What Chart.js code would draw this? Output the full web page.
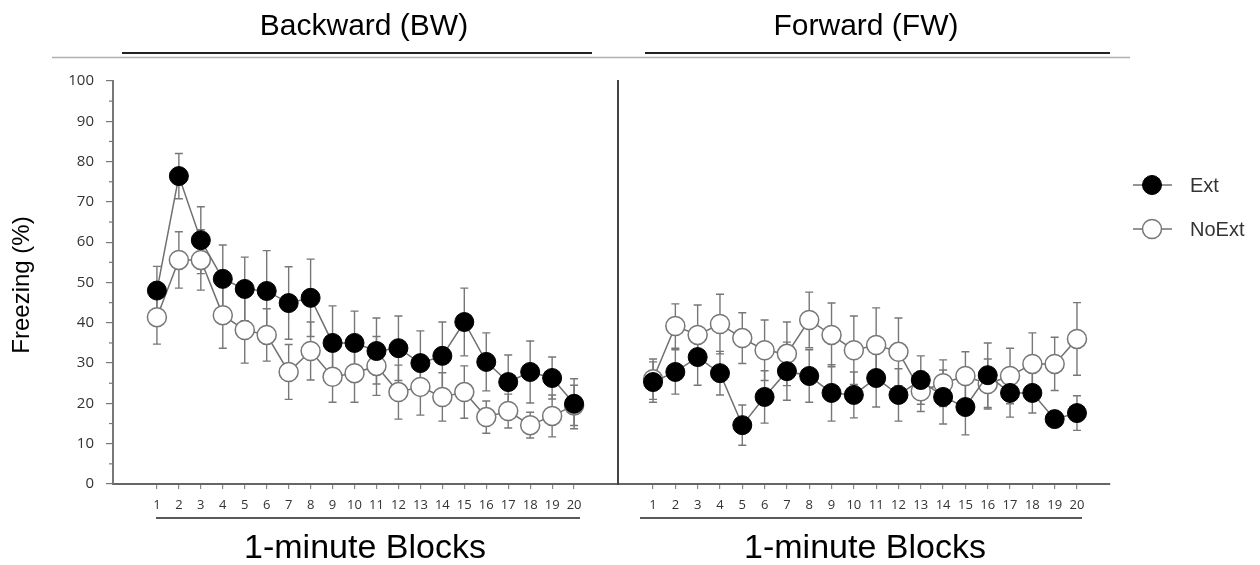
<!DOCTYPE html>
<html><head><meta charset="utf-8">
<script src="https://cdn.jsdelivr.net/npm/chart.js@4.4.1/dist/chart.umd.min.js"></script>
<style>
html,body{margin:0;padding:0;background:#fff;}
#wrap{position:relative;width:1260px;height:565px;background:#fff;}
canvas{position:absolute;left:0;top:0;}
</style></head><body>
<div id="wrap"><canvas id="a" width="1260" height="565"></canvas><canvas id="b" width="1260" height="565"></canvas></div>
<script>
// ---- data ----
const blocks = [1,2,3,4,5,6,7,8,9,10,11,12,13,14,15,16,17,18,19,20];
const seriesNames = ['Ext','NoExt'];
const panelTitles = ['Backward (BW)','Forward (FW)'];
const xTitle = '1-minute Blocks';
const yTitle = 'Freezing (%)';
const yTicks = [0,10,20,30,40,50,60,70,80,90,100];

const bwExt      = [48,76.4,60.5,50.9,48.4,47.9,44.9,46.2,35,35,33,33.7,30,31.8,40.2,30.3,25.3,27.8,26.3,19.9];
const bwExtErr   = [6,5.6,8.3,8.4,7.9,10,9,9.6,9.2,7.9,8.2,8,8,8.4,8.4,7.2,6.7,7.7,5.2,6.2];
const bwNoExt    = [41.4,55.6,55.6,41.9,38.2,37,27.8,33,26.6,27.5,29.3,22.8,24.1,21.6,22.8,16.6,18.1,14.6,16.9,19.5];
const bwNoExtErr = [6.7,7,7.5,8.2,8.2,6.5,6.8,7.2,6.3,7.2,7.3,6.7,7,6,6.5,4,4.2,3.2,5.2,5];

const fwExt      = [25.3,27.8,31.5,27.5,14.6,21.6,28,26.8,22.6,22.1,26.3,22.1,25.8,21.6,19.1,27,22.6,22.6,16.1,17.6];
const fwExtErr   = [5,5.5,7,5.4,5,6.5,7.2,6.5,7,5.7,7.2,6.5,6,6.7,6.9,8,6,5,2,4.3];
const fwNoExt    = [26,39.2,37,39.7,36.2,33.2,32.3,40.7,37,33.2,34.5,32.8,23,25,26.8,24.8,26.8,29.8,29.8,36];
const fwNoExtErr = [5,5.5,7.4,7.4,6.3,7.5,7.9,6.9,7.9,8.5,9.2,8.4,5,5.8,6,6.2,6.9,7.7,6.6,9];

// ---- layout ----
const W = 1260, H = 565;
const PLOT_TOP = 81, PLOT_BOTTOM = 484;
const LINE_C = '#707070';
const TXT = 'Liberation Sans, Arial, sans-serif';
const TICKF = 'Open Sans';

function pts(vals){ return blocks.map((b,i)=>({x:b, y:vals[i]})); }
function makeSets(ext, extErr, no, noErr){
  return [
    {label:seriesNames[0], data:pts(ext), errors:extErr, borderColor:LINE_C, borderWidth:1.5,
     pointRadius:9.5, pointBackgroundColor:'#000', pointBorderColor:'#000', pointBorderWidth:1, tension:0},
    {label:seriesNames[1], data:pts(no), errors:noErr, borderColor:LINE_C, borderWidth:1.5,
     pointRadius:9.5, pointBackgroundColor:'#fff', pointBorderColor:'#777', pointBorderWidth:1.5, tension:0}
  ];
}

const errPlugin = {
  id:'errbars',
  beforeDatasetsDraw(chart){
    const ctx = chart.ctx, xs = chart.scales.x, ys = chart.scales.y;
    ctx.save();
    ctx.strokeStyle = '#777'; ctx.lineWidth = 1.4;
    chart.data.datasets.forEach(ds=>{
      ds.data.forEach((p,j)=>{
        const e = ds.errors[j];
        const x = xs.getPixelForValue(p.x);
        const y1 = ys.getPixelForValue(p.y + e), y2 = ys.getPixelForValue(p.y - e);
        ctx.beginPath();
        ctx.moveTo(x,y1); ctx.lineTo(x,y2);
        ctx.moveTo(x-4,y1); ctx.lineTo(x+4,y1);
        ctx.moveTo(x-4,y2); ctx.lineTo(x+4,y2);
        ctx.stroke();
      });
    });
    ctx.restore();
  }
};

function hline(ctx,x1,x2,y,c,w){ ctx.save(); ctx.strokeStyle=c; ctx.lineWidth=w; ctx.beginPath(); ctx.moveTo(x1,y); ctx.lineTo(x2,y); ctx.stroke(); ctx.restore(); }

const decoPlugin = {
  id:'deco',
  afterDraw(chart){
    const ctx = chart.ctx, ys = chart.scales.y;
    // minor y ticks
    ctx.save(); ctx.strokeStyle='#777'; ctx.lineWidth=1.2;
    for (let i=0;i<yTicks.length-1;i++){
      const v=(yTicks[i]+yTicks[i+1])/2, y=ys.getPixelForValue(v);
      ctx.beginPath(); ctx.moveTo(ys.right-4,y); ctx.lineTo(ys.right,y); ctx.stroke();
    }
    ctx.restore();
    // header
    hline(ctx,52,1130,57.5,'#b0b0b0',1.5);
    hline(ctx,122,592,53,'#222',2);
    hline(ctx,645,1110,53,'#222',2);
    ctx.save();
    ctx.fillStyle='#000'; ctx.textAlign='center'; ctx.textBaseline='alphabetic';
    ctx.font = '30px '+TXT;
    ctx.fillText(panelTitles[0],364,35);
    ctx.fillText(panelTitles[1],866,35);
    // footer
    hline(ctx,156,580,518,'#222',1.5);
    hline(ctx,640,1082,518,'#222',1.5);
    ctx.font = '34px '+TXT;
    ctx.fillText(xTitle,365,558);
    ctx.fillText(xTitle,865,558);
    // y title
    ctx.translate(22,285); ctx.rotate(-Math.PI/2);
    ctx.font = '24px '+TXT; ctx.textBaseline='middle';
    ctx.fillText(yTitle,0,0);
    ctx.restore();
  }
};

const legendPlugin = {
  id:'leg',
  afterDraw(chart){
    const ctx = chart.ctx;
    chart.data.datasets.forEach((ds,k)=>{
      const y = 185 + k*44, cx = 1152;
      hline(ctx,1133,1172,y,LINE_C,1.5);
      ctx.save();
      ctx.beginPath(); ctx.arc(cx,y,9.5,0,Math.PI*2);
      ctx.fillStyle = ds.pointBackgroundColor; ctx.fill();
      ctx.lineWidth = ds.pointBorderWidth; ctx.strokeStyle = ds.pointBorderColor; ctx.stroke();
      ctx.fillStyle='#333'; ctx.font='20px '+TXT; ctx.textAlign='left'; ctx.textBaseline='middle';
      ctx.fillText(ds.label,1190,y+1);
      ctx.restore();
    });
  }
};

function xScale(min,max){
  return {
    type:'linear', min:min, max:max,
    afterBuildTicks:s=>{ s.ticks = blocks.map(v=>({value:v})); },
    afterFit:s=>{ s.height = H - PLOT_BOTTOM; },
    grid:{drawOnChartArea:false, drawTicks:true, tickLength:5, color:'#888', lineWidth:1.2},
    border:{color:'#666', width:2},
    ticks:{font:{family:TICKF,size:13}, color:'#333', padding:8, maxRotation:0, autoSkip:false}
  };
}

const baseOptions = {
  responsive:false, animation:false, devicePixelRatio:1,
  plugins:{legend:{display:false}, tooltip:{enabled:false}},
  events:[]
};

new Chart(document.getElementById('a'), {
  type:'line',
  data:{datasets:makeSets(bwExt,bwExtErr,bwNoExt,bwNoExtErr)},
  options:Object.assign({}, baseOptions, {
    layout:{autoPadding:false, padding:{left:0, top:PLOT_TOP, right:W-618, bottom:0}},
    scales:{
      x:xScale(-1,22),
      y:{min:0,max:100,
         afterBuildTicks:s=>{ s.ticks = yTicks.map(v=>({value:v})); },
         afterFit:s=>{ s.width = 113; },
         grid:{drawOnChartArea:false, tickLength:7, color:'#777', lineWidth:1.2},
         border:{color:'#777', width:2},
         ticks:{font:{family:TICKF,size:15}, color:'#333', padding:12}}
    }
  }),
  plugins:[errPlugin, decoPlugin]
});

new Chart(document.getElementById('b'), {
  type:'line',
  data:{datasets:makeSets(fwExt,fwExtErr,fwNoExt,fwNoExtErr)},
  options:Object.assign({}, baseOptions, {
    layout:{autoPadding:false, padding:{left:600, top:PLOT_TOP, right:W-1110, bottom:0}},
    scales:{
      x:xScale(-0.57,21.48),
      y:{min:0,max:100,
         afterFit:s=>{ s.width = 18; },
         grid:{display:false},
         border:{color:'#444', width:2, dash:[2,2]},
         ticks:{display:false}}
    }
  }),
  plugins:[errPlugin, legendPlugin]
});
</script>
</body></html>
